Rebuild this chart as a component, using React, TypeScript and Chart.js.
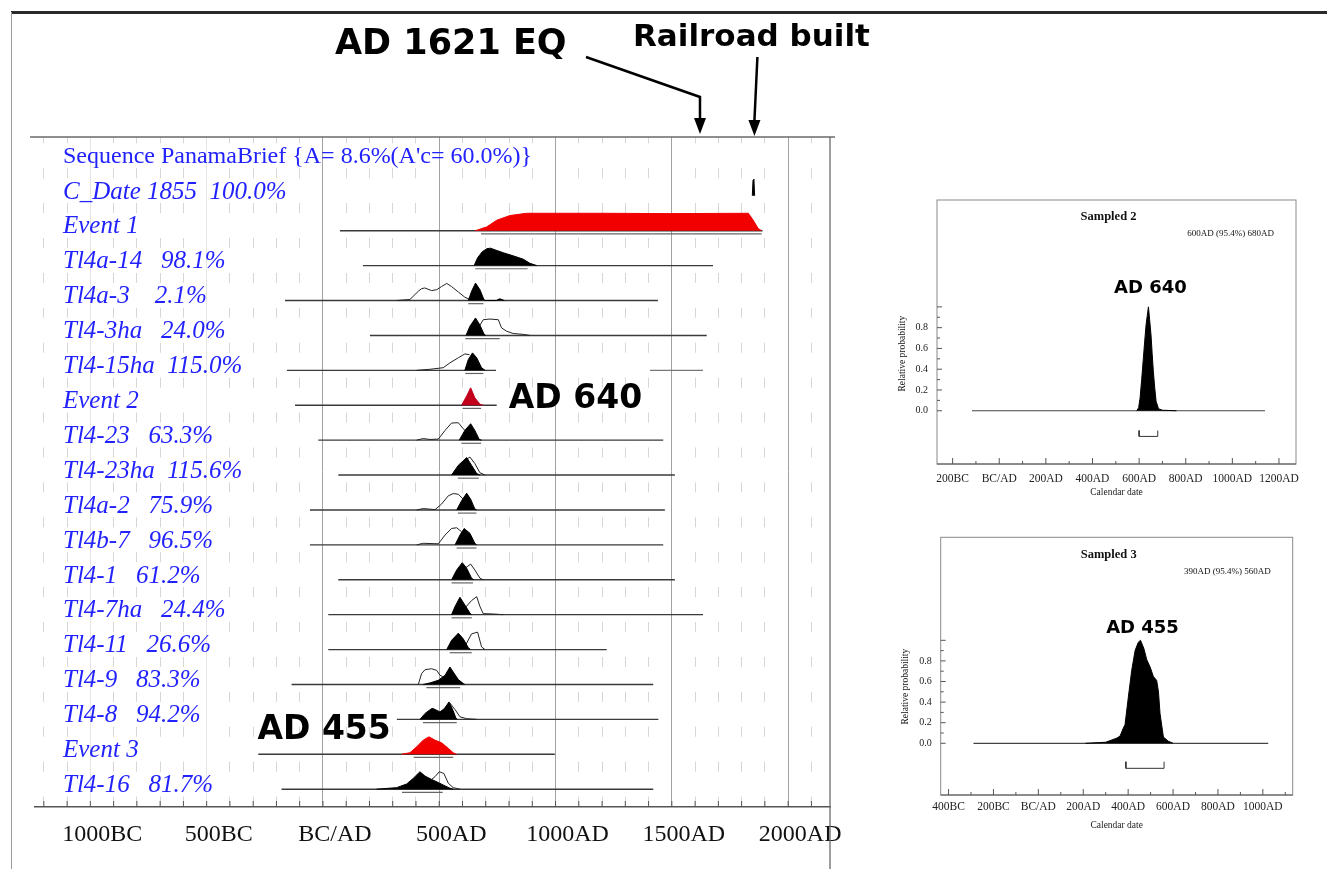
import React, { useEffect, useRef } from "react";
import { Chart, registerables } from "chart.js";
Chart.register(...registerables);

// ---------- main multiplot data ----------
const rowLabels = [
  "Sequence PanamaBrief {A= 8.6%(A'c= 60.0%)}",
  "C_Date 1855  100.0%",
  "Event 1",
  "Tl4a-14   98.1%",
  "Tl4a-3    2.1%",
  "Tl4-3ha   24.0%",
  "Tl4-15ha  115.0%",
  "Event 2",
  "Tl4-23   63.3%",
  "Tl4-23ha  115.6%",
  "Tl4a-2   75.9%",
  "Tl4b-7   96.5%",
  "Tl4-1   61.2%",
  "Tl4-7ha   24.4%",
  "Tl4-11   26.6%",
  "Tl4-9   83.3%",
  "Tl4-8   94.2%",
  "Event 3",
  "Tl4-16   81.7%",
];
const mainTickValues = [-1000, -500, 0, 500, 1000, 1500, 2000];
const mainTickLabels = ["1000BC", "500BC", "BC/AD", "500AD", "1000AD", "1500AD", "2000AD"];

const lineStart = [null, null, 73, 172, -163, 202, -155, -120, -20, 66, -56, -56, 66, 23, 23, -135, 318, -278, -178];
const lineEnd = [null, null, 1890, 1677, 1440, 1650, 744, 747, 1463, 1513, 1470, 1463, 1513, 1634, 1220, 1420, 1442, 997, 1420];
const extraLine = [6, 1406, 1634];
const hpdStart = [null, null, 680, 655, 625, 612, 612, 600, 595, 580, 580, 575, 553, 553, 545, 445, 430, 390, 340];
const hpdEnd = [null, null, 1886, 880, 690, 760, 690, 680, 680, 670, 660, 660, 645, 640, 640, 590, 575, 560, 515];

const cDatePost = [[1846, 0], [1849, 0.9], [1853, 0.95], [1856, 0]];
const event1Post = [[655, 0], [704, 0.22], [747, 0.6], [804, 0.87], [876, 1.0], [1200, 1.0], [1500, 0.98], [1829, 1.0], [1850, 0.6], [1871, 0.13], [1886, 0]];
const t14a14Post = [[650, 0], [665, 0.45], [685, 0.8], [705, 0.97], [720, 1.0], [745, 0.88], [775, 0.74], [818, 0.56], [861, 0.37], [890, 0.13], [920, 0]];
const t14a3Prior = [[316, 0], [374, 0.06], [410, 0.53], [424, 0.68], [438, 0.72], [467, 0.57], [489, 0.62], [510, 0.8], [532, 0.98], [553, 0.8], [582, 0.49], [610, 0.19], [632, 0.06], [650, 0]];
const t14a3Post = [[625, 0], [639, 0.53], [656, 1.0], [675, 0.62], [692, 0.06], [697, 0], [745, 0], [760, 0.1], [780, 0]];
const t143haPrior = [[645, 0], [668, 0.43], [689, 0.9], [718, 0.94], [754, 0.9], [768, 0.43], [790, 0.24], [818, 0.11], [861, 0.06], [890, 0]];
const t143haPost = [[615, 0], [632, 0.53], [656, 1.0], [675, 0.59], [692, 0.09], [700, 0]];
const t1415haPrior = [[403, 0], [460, 0.06], [517, 0.15], [546, 0.43], [582, 0.72], [610, 0.94], [630, 0.9]];
const t1415haPost = [[610, 0], [625, 0.62], [643, 1.0], [661, 0.72], [682, 0.15], [697, 0]];
const event2Post = [[596, 0], [618, 0.53], [635, 1.0], [653, 0.43], [675, 0.06], [689, 0]];
const t1423Prior = [[403, 0], [431, 0.09], [460, 0.04], [496, 0.06], [525, 0.56], [553, 0.98], [582, 1.0], [603, 0.66], [615, 0.5]];
const t1423Post = [[586, 0], [610, 0.56], [635, 0.94], [653, 0.56], [672, 0.04], [682, 0]];
const t1423haPrior = [[612, 0.85], [632, 1.03], [653, 0.66], [675, 0.13], [697, 0]];
const t1423haPost = [[553, 0], [582, 0.56], [618, 1.0], [639, 0.56], [661, 0.09], [675, 0]];
const t14a2Prior = [[403, 0], [431, 0.08], [482, 0.02], [510, 0.34], [539, 0.81], [560, 0.94], [582, 0.9], [603, 0.62], [615, 0.5]];
const t14a2Post = [[575, 0], [596, 0.53], [618, 0.96], [635, 0.62], [653, 0.06], [661, 0]];
const t14b7Prior = [[403, 0], [431, 0.09], [496, 0.06], [525, 0.56], [553, 0.94], [575, 0.98], [596, 0.75], [605, 0.6]];
const t14b7Post = [[568, 0], [589, 0.56], [607, 0.94], [632, 0.66], [653, 0.09], [661, 0]];
const t141Prior = [[615, 0.7], [635, 0.9], [653, 0.56], [675, 0.09], [689, 0]];
const t141Post = [[553, 0], [575, 0.56], [599, 0.98], [618, 0.66], [639, 0.09], [649, 0]];
const t147haPrior = [[615, 0.45], [639, 0.81], [661, 1.03], [675, 0.47], [689, 0.06], [732, 0.04], [775, 0]];
const t147haPost = [[553, 0], [568, 0.47], [589, 1.0], [610, 0.56], [632, 0.09], [639, 0]];
const t1411Prior = [[615, 0.3], [639, 0.9], [665, 1.0], [682, 0.15], [697, 0]];
const t1411Post = [[532, 0], [553, 0.53], [582, 0.94], [603, 0.62], [625, 0.11], [635, 0]];
const t149Prior = [[410, 0], [424, 0.62], [439, 0.85], [467, 0.9], [489, 0.81], [503, 0.53], [515, 0.45]];
const t149Post = [[431, 0], [460, 0.09], [496, 0.24], [525, 0.53], [546, 1.0], [563, 0.66], [582, 0.28], [603, 0.06], [610, 0]];
const t148Prior = [[545, 0.95], [568, 0.56], [589, 0.15], [618, 0.04], [661, 0]];
const t148Post = [[417, 0], [439, 0.34], [467, 0.62], [474, 0.62], [503, 0.43], [522, 0.62], [542, 1.0], [560, 0.49], [572, 0.06], [578, 0]];
const event3Post = [[338, 0], [374, 0.09], [403, 0.43], [431, 0.81], [456, 1.0], [482, 0.81], [510, 0.66], [539, 0.34], [560, 0.09], [575, 0]];
const t1416Prior = [[467, 0.56], [482, 0.72], [500, 1.0], [520, 0.9], [539, 0.34], [560, 0.09], [589, 0]];
const t1416Post = [[231, 0], [317, 0.09], [360, 0.3], [388, 0.62], [417, 1.0], [439, 0.75], [467, 0.56], [496, 0.38], [525, 0.19], [546, 0.06], [560, 0]];

const posteriors = [null, cDatePost, event1Post, t14a14Post, t14a3Post, t143haPost, t1415haPost, event2Post, t1423Post, t1423haPost, t14a2Post, t14b7Post, t141Post, t147haPost, t1411Post, t149Post, t148Post, event3Post, t1416Post];
const priors = [null, null, null, null, t14a3Prior, t143haPrior, t1415haPrior, null, t1423Prior, t1423haPrior, t14a2Prior, t14b7Prior, t141Prior, t147haPrior, t1411Prior, t149Prior, t148Prior, null, t1416Prior];
const eventColors: Record<number, string> = { 2: "#f20000", 7: "#c3001c", 17: "#f20000" };

// ---------- inset data ----------
const probTicks = [0, 0.2, 0.4, 0.6, 0.8];
const s2TickValues = [-200, 0, 200, 400, 600, 800, 1000, 1200];
const s2TickLabels = ["200BC", "BC/AD", "200AD", "400AD", "600AD", "800AD", "1000AD", "1200AD"];
const s2Line = [-117, 1140];
const s2Hpd = [600, 680];
const s2Dist = [[590, 0], [598, 0.03], [604, 0.12], [611, 0.3], [618, 0.5], [624, 0.67], [630, 0.83], [640, 1.0], [645, 0.88], [651, 0.73], [656, 0.55], [661, 0.38], [667, 0.22], [673, 0.09], [683, 0.02], [700, 0.005], [760, 0]];
const s3TickValues = [-400, -200, 0, 200, 400, 600, 800, 1000];
const s3TickLabels = ["400BC", "200BC", "BC/AD", "200AD", "400AD", "600AD", "800AD", "1000AD"];
const s3Line = [-289, 1024];
const s3Hpd = [390, 560];
const s3Dist = [[210, 0], [300, 0.01], [349, 0.05], [364, 0.07], [379, 0.15], [386, 0.18], [401, 0.45], [416, 0.71], [431, 0.9], [445, 0.98], [455, 1.0], [470, 0.92], [483, 0.81], [498, 0.74], [512, 0.65], [527, 0.61], [535, 0.5], [542, 0.29], [557, 0.06], [579, 0.02], [600, 0]];

const SERIF = '"Liberation Serif", "DejaVu Serif", serif';
const BOLDSANS = '"DejaVu Sans", "Liberation Sans", sans-serif';
const H = 0.5;

function seg(ctx: CanvasRenderingContext2D, x1: number, y1: number, x2: number, y2: number) {
  ctx.beginPath();
  ctx.moveTo(x1, y1);
  ctx.lineTo(x2, y2);
  ctx.stroke();
}

function arrowHead(ctx: CanvasRenderingContext2D, x: number, tipY: number) {
  ctx.beginPath();
  ctx.moveTo(x, tipY);
  ctx.lineTo(x - 6, tipY - 16);
  ctx.lineTo(x + 6, tipY - 16);
  ctx.closePath();
  ctx.fill();
}

const mainDecor = {
  id: "mainDecor",
  afterDraw(chart: any) {
    const { ctx, chartArea: a, scales } = chart;
    const x = scales.x;
    const y = scales.y;
    ctx.save();
    ctx.strokeStyle = "#6a6a6a";
    ctx.lineWidth = 1.3;
    seg(ctx, 30, a.top, a.right + 5, a.top);
    seg(ctx, a.right, a.top, a.right, chart.height);
    ctx.strokeStyle = "#555";
    ctx.lineWidth = 1;
    for (let v = -1200; v <= 2100; v += 100) {
      const px = x.getPixelForValue(v);
      if (px < a.left || px > a.right) continue;
      seg(ctx, px, a.bottom, px, a.bottom - 6);
    }
    // annotations
    ctx.fillStyle = "#000";
    ctx.strokeStyle = "#000";
    ctx.textBaseline = "middle";
    ctx.textAlign = "left";
    ctx.font = `bold 35px ${BOLDSANS}`;
    ctx.fillText("AD 1621 EQ", 335, 45);
    ctx.font = `bold 31px ${BOLDSANS}`;
    ctx.fillText("Railroad built", 633, 38);
    const xe = x.getPixelForValue(1621);
    const xr = x.getPixelForValue(1855);
    ctx.lineWidth = 2.5;
    ctx.beginPath();
    ctx.moveTo(586, 57);
    ctx.lineTo(xe, 97);
    ctx.lineTo(xe, a.top - 16);
    ctx.stroke();
    arrowHead(ctx, xe, a.top - 3);
    seg(ctx, xr + 3, 57, xr, a.top - 16);
    arrowHead(ctx, xr, a.top - 1);
    ctx.font = `bold 33px ${BOLDSANS}`;
    ctx.fillText("AD 640", x.getPixelForValue(640) + 37, y.getPixelForValue(-7) - 6);
    ctx.textAlign = "right";
    ctx.fillText("AD 455", x.getPixelForValue(455) - 38, y.getPixelForValue(-17) - 24);
    ctx.restore();
  },
};

function buildMainDatasets() {
  const ds: any[] = [];
  const pts = (arr: number[][], row: number) => arr.map(([yr, p]) => ({ x: yr, y: -row + p * H }));
  for (let i = 0; i < rowLabels.length; i++) {
    if (lineStart[i] !== null) {
      ds.push({ data: [{ x: lineStart[i], y: -i }, { x: lineEnd[i], y: -i }], borderColor: "#3a3a3a", borderWidth: 1.4, order: 3 });
    }
    if (extraLine[0] === i) {
      ds.push({ data: [{ x: extraLine[1], y: -i }, { x: extraLine[2], y: -i }], borderColor: "#777", borderWidth: 1.2, order: 3 });
    }
    if (hpdStart[i] !== null) {
      ds.push({ data: [{ x: hpdStart[i], y: -i - 0.09 }, { x: hpdEnd[i], y: -i - 0.09 }], borderColor: "#666", borderWidth: 1.2, order: 3 });
    }
    const pr = priors[i];
    if (pr) ds.push({ data: pts(pr, i), borderColor: "#222", borderWidth: 1, fill: false, order: 2 });
    const po = posteriors[i];
    if (po) {
      const c = eventColors[i] || "#000";
      ds.push({ data: pts(po, i), borderColor: c, backgroundColor: c, borderWidth: 1, fill: { value: -i }, order: 1 });
    }
  }
  return ds;
}

function mainConfig(): any {
  return {
    type: "line",
    data: { datasets: buildMainDatasets() },
    plugins: [mainDecor],
    options: {
      responsive: false,
      animation: false,
      devicePixelRatio: 1,
      layout: { padding: { left: 35, top: 137, right: 70, bottom: 0 } },
      elements: { point: { radius: 0 }, line: { tension: 0 } },
      plugins: { legend: { display: false }, tooltip: { enabled: false }, title: { display: false } },
      scales: {
        x: {
          type: "linear",
          position: "bottom",
          min: -1238,
          max: 2180,
          afterBuildTicks: (s: any) => { s.ticks = mainTickValues.map((v) => ({ value: v })); },
          afterFit: (s: any) => { s.height = 62; s.paddingLeft = 0; s.paddingRight = 0; },
          ticks: {
            autoSkip: false,
            maxRotation: 0,
            padding: 13,
            labelOffset: 12,
            color: "#111",
            font: { family: SERIF, size: 24 },
            callback: (_v: any, i: number) => mainTickLabels[i],
          },
          grid: { color: (c: any) => (c.tick && c.tick.value < 0 ? "#e4e4e4" : "#a2a2a2"), lineWidth: 1, drawTicks: false },
          border: { display: true, color: "#555", width: 1.5 },
        },
        x2: {
          type: "linear",
          position: "bottom",
          min: -1238,
          max: 2180,
          afterBuildTicks: (s: any) => {
            const t: any[] = [];
            for (let v = -1200; v <= 2100; v += 100) if (v % 500 !== 0) t.push({ value: v });
            s.ticks = t;
          },
          afterFit: (s: any) => { s.height = 0; s.paddingLeft = 0; s.paddingRight = 0; },
          ticks: { display: false },
          grid: { color: "#d6d6d6", lineWidth: 1, drawTicks: false },
          border: { display: false, dash: [10, 24.91], dashOffset: 3.71 },
        },
        y: {
          type: "linear",
          position: "left",
          min: -18.51,
          max: 0.685,
          afterBuildTicks: (s: any) => { s.ticks = rowLabels.map((_, i) => ({ value: -i + 0.11 })); },
          afterFit: (s: any) => { s.width = 0; s.paddingTop = 0; s.paddingBottom = 0; },
          ticks: {
            mirror: true,
            padding: 28,
            autoSkip: false,
            color: "#2222ff",
            font: (c: any) => (c.index === 0 ? { family: SERIF, size: 24, style: "normal" } : { family: SERIF, size: 25, style: "italic" }),
            callback: (_v: any, i: number) => rowLabels[i],
          },
          grid: { display: false, drawTicks: false },
          border: { display: false },
        },
      },
    },
  };
}

const insetDecor = {
  id: "insetDecor",
  afterDraw(chart: any, _args: any, o: any) {
    const { ctx, chartArea: a, scales } = chart;
    const x = scales.x;
    const y = scales.y;
    ctx.save();
    ctx.strokeStyle = "#8a8a8a";
    ctx.lineWidth = 1;
    ctx.strokeRect(a.left, a.top, a.right - a.left, a.bottom - a.top);
    ctx.strokeStyle = "#555";
    seg(ctx, a.left, a.bottom, a.right, a.bottom);
    for (let v = Math.ceil(x.min / 100) * 100; v <= x.max; v += 100) {
      const px = x.getPixelForValue(v);
      seg(ctx, px, a.bottom, px, a.bottom - (v % 200 === 0 ? 6 : 3));
    }
    for (let k = 0; k <= 10; k++) {
      const py = y.getPixelForValue(k / 10);
      seg(ctx, a.left, py, a.left + (k % 2 === 0 ? 5 : 3), py);
    }
    ctx.fillStyle = "#111";
    ctx.textBaseline = "middle";
    ctx.textAlign = "center";
    ctx.font = `bold 12.5px ${SERIF}`;
    ctx.fillText(o.title, a.left + (a.right - a.left) / 2 - 8, a.top + 17);
    ctx.textAlign = "right";
    ctx.font = `9px ${SERIF}`;
    ctx.fillText(o.range, a.right - 22, a.top + 34);
    ctx.save();
    ctx.translate(a.left - 35, y.getPixelForValue(0.55));
    ctx.rotate(-Math.PI / 2);
    ctx.textAlign = "center";
    ctx.font = `9.5px ${SERIF}`;
    ctx.fillText("Relative probability", 0, 0);
    ctx.restore();
    ctx.textAlign = "center";
    ctx.fillStyle = "#000";
    ctx.font = `bold 18px ${BOLDSANS}`;
    ctx.fillText(o.peak, x.getPixelForValue(o.peakYear) + 2, y.getPixelForValue(1) - o.dy);
    ctx.restore();
  },
};

function insetConfig(p: any): any {
  const bz = p.bracketBottom;
  const bt = p.bracketTop;
  return {
    type: "line",
    data: {
      datasets: [
        { data: p.dist.map(([yr, v]: number[]) => ({ x: yr, y: v })), borderColor: "#000", backgroundColor: "#000", borderWidth: 1, fill: { value: 0 }, order: 1 },
        { data: [{ x: p.line[0], y: 0 }, { x: p.line[1], y: 0 }], borderColor: "#444", borderWidth: 1.2, order: 2 },
        { data: [{ x: p.hpd[0], y: bt }, { x: p.hpd[0], y: bz }, { x: p.hpd[1], y: bz }, { x: p.hpd[1], y: bt }], borderColor: "#333", borderWidth: 1, order: 2 },
      ],
    },
    plugins: [insetDecor],
    options: {
      responsive: false,
      animation: false,
      devicePixelRatio: 1,
      layout: { padding: { left: 0, top: p.padTop, right: p.padRight, bottom: 0 } },
      elements: { point: { radius: 0 }, line: { tension: 0 } },
      plugins: {
        legend: { display: false },
        tooltip: { enabled: false },
        insetDecor: { title: p.title, range: p.range, peak: p.peak, peakYear: p.peakYear, dy: p.dy },
      },
      scales: {
        x: {
          type: "linear",
          min: p.xMin,
          max: p.xMax,
          afterBuildTicks: (s: any) => { s.ticks = p.tickValues.map((v: number) => ({ value: v })); },
          afterFit: (s: any) => { s.height = p.xAxisH; s.paddingLeft = 0; s.paddingRight = 0; },
          ticks: { autoSkip: false, maxRotation: 0, padding: p.tickPad, color: "#222", font: { family: SERIF, size: 11.5 }, callback: (_v: any, i: number) => p.tickLabels[i] },
          grid: { display: false, drawTicks: false },
          border: { display: false },
          title: { display: true, text: "Calendar date", color: "#222", font: { family: SERIF, size: 9.5 }, padding: { top: 0, bottom: p.titlePad } },
        },
        y: {
          type: "linear",
          min: p.yMin,
          max: p.yMax,
          afterBuildTicks: (s: any) => { s.ticks = probTicks.map((v) => ({ value: v })); },
          afterFit: (s: any) => { s.width = p.yAxisW; s.paddingTop = 0; s.paddingBottom = 0; },
          ticks: { autoSkip: false, padding: 9, color: "#222", font: { family: SERIF, size: 10 }, callback: (v: number) => v.toFixed(1) },
          grid: { display: false, drawTicks: false },
          border: { display: false },
        },
      },
    },
  };
}

function ChartCanvas({ make, left, top, width, height }: any) {
  const ref = useRef<HTMLCanvasElement>(null);
  useEffect(() => {
    const chart = new Chart(ref.current as HTMLCanvasElement, make());
    return () => chart.destroy();
  }, []);
  return <canvas ref={ref} width={width} height={height} style={{ position: "absolute", left, top, width, height }} />;
}

export default function App() {
  return (
    <div style={{ position: "fixed", left: 0, top: 0, width: 1327, height: 869, background: "#fff", overflow: "hidden" }}>
      <div style={{ position: "absolute", left: 11, top: 11, right: 0, height: 0, borderTop: "3px solid #2a2a2a" }} />
      <div style={{ position: "absolute", left: 11, top: 12, bottom: 0, width: 0, borderLeft: "1.5px solid #9a9a9a" }} />
      <ChartCanvas make={mainConfig} left={0} top={0} width={900} height={869} />
      <ChartCanvas
        make={() =>
          insetConfig({
            xMin: -267, xMax: 1273, yMin: -0.5125, yMax: 2.029,
            tickValues: s2TickValues, tickLabels: s2TickLabels,
            line: s2Line, hpd: s2Hpd, dist: s2Dist, bracketBottom: -0.247, bracketTop: -0.19,
            padTop: 10, padRight: 24, yAxisW: 57, xAxisH: 46, tickPad: 8, titlePad: 11.6,
            title: "Sampled 2", range: "600AD (95.4%) 680AD", peak: "AD 640", peakYear: 640, dy: 19,
          })
        }
        left={880} top={190} width={440} height={320}
      />
      <ChartCanvas
        make={() =>
          insetConfig({
            xMin: -435, xMax: 1133, yMin: -0.502, yMax: 2.0,
            tickValues: s3TickValues, tickLabels: s3TickLabels,
            line: s3Line, hpd: s3Hpd, dist: s3Dist, bracketBottom: -0.243, bracketTop: -0.179,
            padTop: 10.3, padRight: 27.3, yAxisW: 60.7, xAxisH: 42, tickPad: 5, titlePad: 5.6,
            title: "Sampled 3", range: "390AD (95.4%) 560AD", peak: "AD 455", peakYear: 455, dy: 12,
          })
        }
        left={880} top={527} width={440} height={310}
      />
    </div>
  );
}
